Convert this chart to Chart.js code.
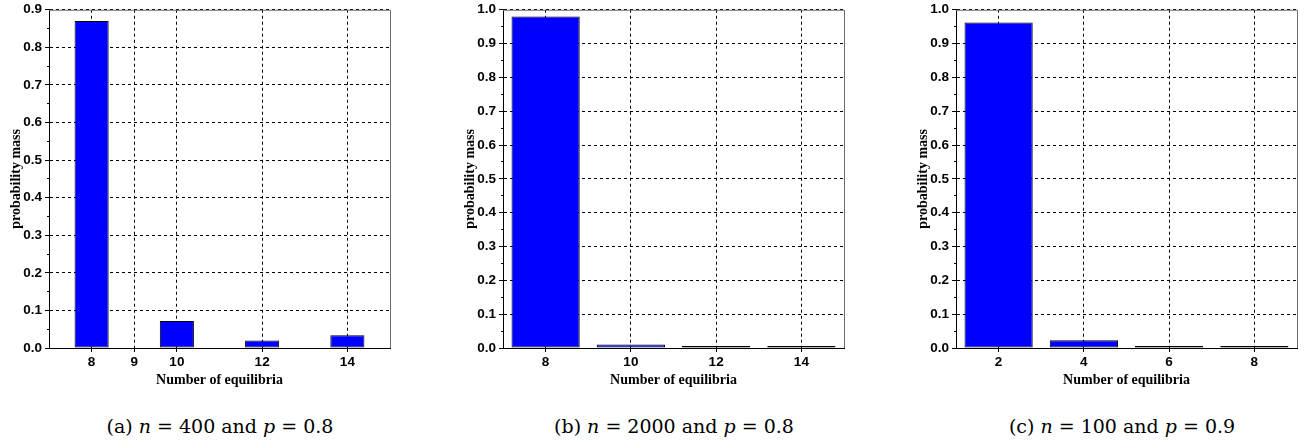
<!DOCTYPE html>
<html>
<head>
<meta charset="utf-8">
<script src="https://cdn.jsdelivr.net/npm/chart.js@4/dist/chart.umd.min.js"></script>
<style>
  html, body { margin: 0; padding: 0; background: #fff; }
  body { width: 1309px; height: 442px; position: relative; overflow: hidden; }
  canvas { position: absolute; top: 0; }
  .cap { position: absolute; top: 416px; width: 400px; text-align: center;
         font-family: 'DejaVu Serif', serif; font-size: 19px; line-height: 20px; color: #000; white-space: nowrap; }
</style>
</head>
<body>
<canvas id="ca" width="400" height="395" style="left:0px"></canvas>
<canvas id="cb" width="400" height="395" style="left:454px"></canvas>
<canvas id="cc" width="400" height="395" style="left:907px"></canvas>
<div class="cap" style="left:20px">(a) <i>n</i> = 400 and <i>p</i> = 0.8</div>
<div class="cap" style="left:474px">(b) <i>n</i> = 2000 and <i>p</i> = 0.8</div>
<div class="cap" style="left:922px">(c) <i>n</i> = 100 and <i>p</i> = 0.9</div>
<script>
// ---- data ----
const xTitle = 'Number of equilibria';
const yTitle = 'probability mass';

const ticksA = [8, 9, 10, 12, 14];
const equilA = [8, 10, 12, 14];
const probA  = [0.87, 0.072, 0.02, 0.034];

const ticksB = [8, 10, 12, 14];
const equilB = [8, 10, 12, 14];
const probB  = [0.98, 0.01, 0.003, 0.002];

const ticksC = [2, 4, 6, 8];
const equilC = [2, 4, 6, 8];
const probC  = [0.962, 0.023, 0.005, 0.002];

const xRangeA = [7, 15], yMaxA = 0.9;
const xRangeB = [7, 15], yMaxB = 1.0;
const xRangeC = [1, 9],  yMaxC = 1.0;

// ---- helpers ----
const isMajor = v => Math.abs(Math.round(v * 10) - v * 10) < 1e-6;

const framePlugin = {
  id: 'frame',
  beforeDatasetsDraw(chart) {
    const a = chart.chartArea, c = chart.ctx;
    c.save();
    c.strokeStyle = '#6e6e6e';
    c.lineWidth = 1;
    c.beginPath();
    c.moveTo(a.left, a.top + 0.5);
    c.lineTo(a.right + 0.5, a.top + 0.5);
    c.lineTo(a.right + 0.5, a.bottom);
    c.stroke();
    c.restore();
  }
};

function makeChart(id, xTicks, xs, ys, xRange, yMax) {
  const tickFont = { family: "'Liberation Sans', Arial, sans-serif", weight: 'bold', size: 13.5, lineHeight: 1 };
  const titleFont = { family: "'Liberation Serif', 'Times New Roman', serif", weight: 'bold', size: 14 };
  return new Chart(document.getElementById(id), {
    type: 'bar',
    data: {
      datasets: [{
        data: xs.map((x, i) => ({ x: x, y: ys[i] })),
        backgroundColor: '#0000ff',
        borderColor: '#000000',
        borderWidth: 1,
        borderSkipped: false,
        categoryPercentage: 1,
        barPercentage: 0.8,
        minBarLength: 2
      }]
    },
    options: {
      responsive: false,
      devicePixelRatio: 1,
      animation: false,
      layout: { padding: { top: 7, right: 10, left: 0, bottom: 0 } },
      plugins: { legend: { display: false }, tooltip: { enabled: false } },
      scales: {
        x: {
          type: 'linear',
          offset: false,
          min: xRange[0], max: xRange[1],
          afterBuildTicks: s => { s.ticks = xTicks.map(v => ({ value: v })); },
          afterFit: s => { s.height = 47; },
          grid: { offset: false, color: '#000', lineWidth: 1, tickLength: 4, tickColor: '#000' },
          border: { display: true, color: '#000', width: 1, dash: [3, 3] },
          ticks: { color: '#000', font: tickFont, padding: 4, maxRotation: 0, autoSkip: false },
          title: { display: true, text: xTitle, color: '#000', font: titleFont, padding: { top: 0, bottom: 6 } }
        },
        y: {
          min: 0, max: yMax,
          afterFit: s => { s.width = 49; },
          grid: {
            color: ctx => (ctx.tick && isMajor(ctx.tick.value)) ? '#000' : 'rgba(0,0,0,0)',
            lineWidth: 1,
            tickLength: 4,
            tickColor: '#000',
            tickBorderDash: ctx => (ctx.tick && !isMajor(ctx.tick.value)) ? [0, 2, 2, 10] : []
          },
          border: { display: true, color: '#000', width: 1, dash: [3, 3] },
          ticks: {
            stepSize: 0.05, autoSkip: false, color: '#000', font: tickFont, padding: 3,
            callback: v => isMajor(v) ? v.toFixed(1) : ''
          },
          title: { display: true, text: yTitle, color: '#000', font: titleFont, padding: { top: 8, bottom: 0 } }
        }
      }
    },
    plugins: [framePlugin]
  });
}

makeChart('ca', ticksA, equilA, probA, xRangeA, yMaxA);
makeChart('cb', ticksB, equilB, probB, xRangeB, yMaxB);
makeChart('cc', ticksC, equilC, probC, xRangeC, yMaxC);
</script>
</body>
</html>
